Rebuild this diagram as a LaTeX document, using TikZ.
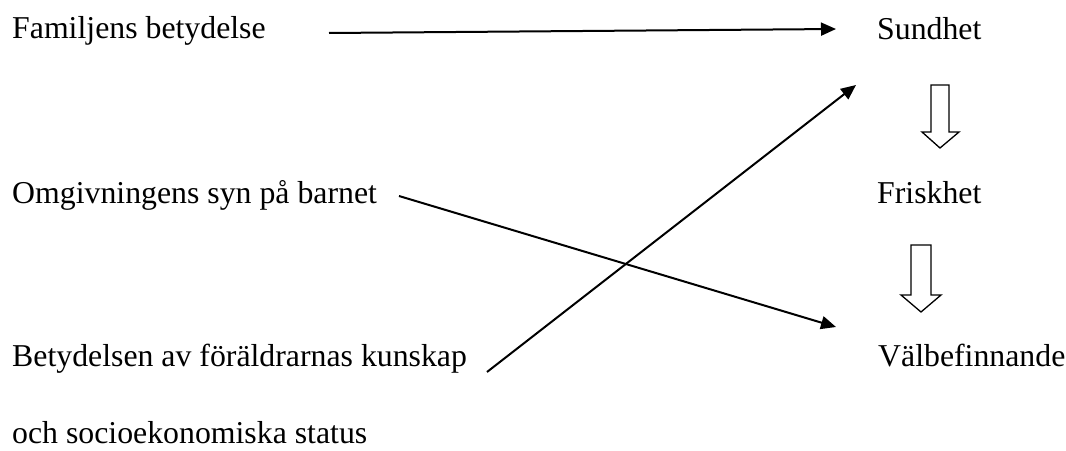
\documentclass[tikz,border=0pt]{standalone}
\usepackage{fontspec}
\setmainfont{Liberation Serif}
\usetikzlibrary{arrows.meta}
\begin{document}
\begin{tikzpicture}[x=1pt,y=-1pt,
  lbl/.style={anchor=base west,inner sep=0pt,font=\fontsize{31.8}{38}\selectfont},
  conn/.style={line width=2pt,-{Triangle[length=15pt,width=13pt]}},
  blockarrow/.style={draw=black,line width=1.3pt,fill=white,line join=miter}]
\useasboundingbox (0,0) rectangle (1066,450);
\node[lbl] (fam) at (12,38) {Familjens betydelse};
\node[lbl] (omg) at (12,203) {Omgivningens syn på barnet};
\node[lbl] (bet) at (12,366) {Betydelsen av föräldrarnas kunskap};
\node[lbl] (och) at (12,443) {och socioekonomiska status};
\node[lbl] (sund) at (877,39) {Sundhet};
\node[lbl] (frisk) at (877,203) {Friskhet};
\node[lbl] (valb) at (878,366) {Välbefinnande};
% connectors
\coordinate (a1s) at (329,33);
\coordinate (a1e) at (836,29);
\coordinate (a2s) at (487,372);
\coordinate (a2e) at (856,85);
\coordinate (a3s) at (399,196);
\coordinate (a3e) at (836,327);
\draw[conn] (a1s) -- (a1e);
\draw[conn] (a2s) -- (a2e);
\draw[conn] (a3s) -- (a3e);
% block arrows
\draw[blockarrow] (931,85) -- (949,85) -- (949,132) -- (959,132) -- (940,148) -- (922,132) -- (931,132) -- cycle;
\draw[blockarrow] (911,245) -- (931,245) -- (931,295) -- (941,295) -- (921,312) -- (901,295) -- (911,295) -- cycle;
\end{tikzpicture}
\end{document}
